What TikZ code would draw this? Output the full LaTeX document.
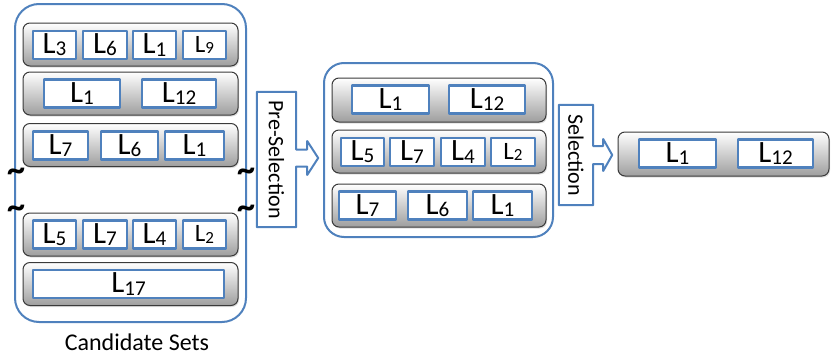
\documentclass[tikz,border=0pt]{standalone}
\usepackage{fontspec}
\setmainfont{Carlito}
\usetikzlibrary{calc,shadows}
\definecolor{ink}{HTML}{000000}
\definecolor{setblue}{HTML}{4F81BD}
\definecolor{rowedge}{HTML}{3A3A3A}
\newcommand{\labfont}{\fontsize{31}{32}\selectfont}
\newcommand{\smlabfont}{\fontsize{25}{26}\selectfont}
\newcommand{\capfont}{\fontsize{24}{28}\selectfont}
\newcommand{\stepfont}{\fontsize{22}{24}\selectfont}
\newcommand{\lit}[1]{L\raisebox{-0.07em}{\scalebox{0.68}{#1}}}
\tikzset{
  every picture/.style = {line join=round},
  setbox/.style  = {draw=setblue, line width=2pt, rounded corners=24},
  setrow/.style  = {draw=rowedge, line width=1pt, rounded corners=7,
                    top color=white, bottom color=black!38,
                    drop shadow={opacity=0.25, shadow xshift=1pt, shadow yshift=-1.5pt}},
  lbox/.style    = {draw=setblue, line width=2.4pt, fill=white, text=ink,
                    minimum height=28, inner sep=0pt, font=\labfont},
  stepbox/.style = {draw=setblue, line width=2pt, fill=white},
  tilde/.style   = {font=\fontsize{36}{36}\selectfont\bfseries, inner sep=0pt, text=ink},
}

\begin{document}
\begin{tikzpicture}[x=1pt, y=-1pt]
  \useasboundingbox (0,0) rectangle (831,356);
  % one row of literal boxes: \lrow{name}{y}{x/width/label,...}
  \newcommand{\lrow}[3]{%
    \foreach \cx/\w/\lab [count=\i] in {#3}
      \node[lbox, minimum width=\w] (#1-\i) at (\cx,#2) {\lab};
  }

  % --- Candidate sets ---------------------------------------------------------
  \node[setbox, minimum width=231, minimum height=318] (cand) at (130.5,163) {};
  \node[setrow, minimum width=215, minimum height=43] (cr1) at (130.5,44.5) {};
  \node[setrow, minimum width=215, minimum height=43] (cr2) at (130.5,93.5) {};
  \node[setrow, minimum width=215, minimum height=43] (cr3) at (130.5,145) {};
  \node[setrow, minimum width=215, minimum height=43] (cr4) at (130.5,234.5) {};
  \node[setrow, minimum width=215, minimum height=43] (cr5) at (130.5,284) {};
  \lrow{cr1}{45}{54.5/43/\lit{3}, 105/44/\lit{6}, 154.5/43/\lit{1}, 204.5/43/{\smlabfont\lit{9}}}
  \lrow{cr2}{93.5}{82/76/\lit{1}, 179/74/\lit{12}}
  \lrow{cr3}{145.5}{60.5/55/\lit{7}, 129.5/57/\lit{6}, 194.5/59/\lit{1}}
  \lrow{cr4}{234.5}{54.5/43/\lit{5}, 105/44/\lit{7}, 154.5/43/\lit{4}, 204.5/43/{\smlabfont\lit{2}}}
  \lrow{cr5}{284}{128.5/191/\lit{17}}
  % cut marks on the container sides
  \node[tilde] (cutla) at (16,175) {\textasciitilde};
  \node[tilde] (cutlb) at (16,212) {\textasciitilde};
  \node[tilde] (cutra) at (246,175) {\textasciitilde};
  \node[tilde] (cutrb) at (246,212) {\textasciitilde};
  \node[font=\capfont, text=ink] (candlab) at (137,342) {Candidate Sets};

  % --- Pre-selection step -----------------------------------------------------
  \node[minimum width=39, minimum height=135, inner sep=0pt] (presel) at (276.5,159.5) {};
  \coordinate (pa) at ($(presel.east)+(0,-1.5)$);
  \draw[stepbox] (presel.north west) -- (presel.north east)
    -- ($(pa)+(0,-8.5)$) -- ($(pa)+(11,-8.5)$) -- ($(pa)+(11,-17)$)
    -- ($(pa)+(22,0)$)
    -- ($(pa)+(11,17)$) -- ($(pa)+(11,8.5)$) -- ($(pa)+(0,8.5)$)
    -- (presel.south east) -- (presel.south west) -- cycle;
  \node (pretext) at (presel) {\rotatebox{-90}{\stepfont Pre-Selection}};

  % --- Pre-selected sets ------------------------------------------------------
  \node[setbox, rounded corners=20, minimum width=229, minimum height=174] (pre) at (438.5,150) {};
  \node[setrow, minimum width=214, minimum height=44] (pr1) at (439,100) {};
  \node[setrow, minimum width=214, minimum height=43] (pr2) at (439,151.5) {};
  \node[setrow, minimum width=214, minimum height=43] (pr3) at (439,205.5) {};
  \lrow{pr1}{99.5}{390.5/77/\lit{1}, 487/76/\lit{12}}
  \lrow{pr2}{152}{362.5/43/\lit{5}, 412/44/\lit{7}, 463/44/\lit{4}, 513/44/{\smlabfont\lit{2}}}
  \lrow{pr3}{205.5}{367.5/57/\lit{7}, 437.5/59/\lit{6}, 502.5/59/\lit{1}}

  % --- Selection step ---------------------------------------------------------
  \node[minimum width=34, minimum height=100, inner sep=0pt] (sel) at (576,155) {};
  \draw[stepbox] (sel.north west) -- (sel.north east)
    -- ($(sel.east)+(0,-9)$) -- ($(sel.east)+(10,-9)$) -- ($(sel.east)+(10,-16)$)
    -- ($(sel.east)+(19,0)$)
    -- ($(sel.east)+(10,16)$) -- ($(sel.east)+(10,9)$) -- ($(sel.east)+(0,9)$)
    -- (sel.south east) -- (sel.south west) -- cycle;
  \node (seltext) at (sel) {\rotatebox{-90}{\stepfont Selection}};

  % --- Selected set -----------------------------------------------------------
  \node[setrow, minimum width=211, minimum height=44] (fin) at (723.5,154) {};
  \lrow{fin}{153.5}{677.5/77/\lit{1}, 775.5/75/\lit{12}}
\end{tikzpicture}
\end{document}
